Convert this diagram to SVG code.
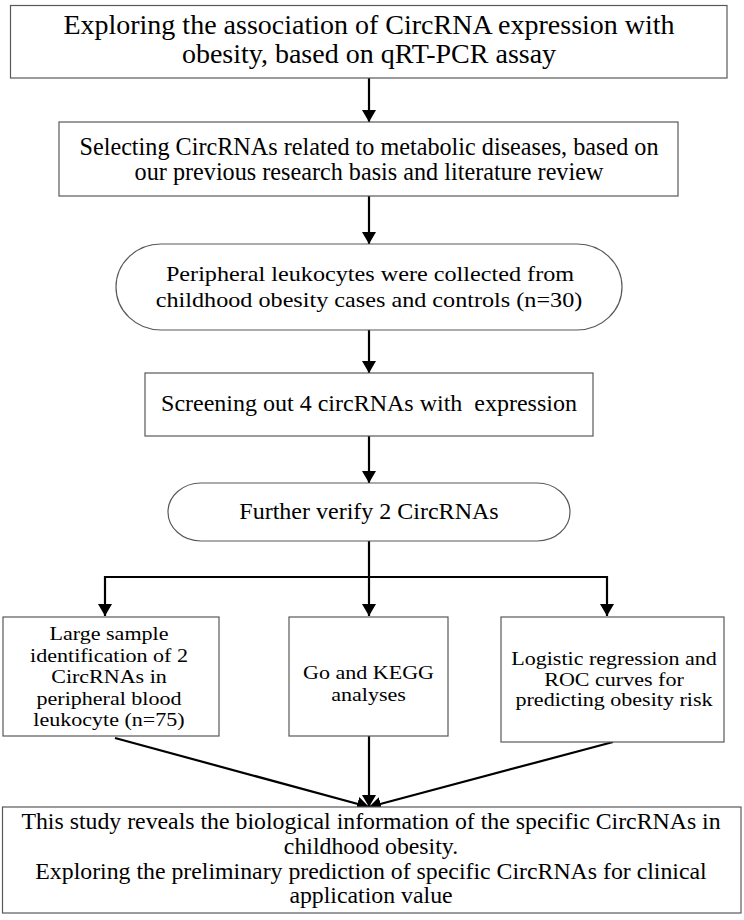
<svg xmlns="http://www.w3.org/2000/svg" width="744" height="920" viewBox="0 0 744 920">
<defs>
<style>
.box{fill:#fff;stroke:#595959;stroke-width:1.2}
.t{font-family:"Liberation Serif","Times New Roman",serif;fill:#000;text-anchor:middle}
.s{font-size:19px}
.m{font-size:21.5px}
.c{fill:none;stroke:#000;stroke-width:2.2}
</style>
<marker id="ah" markerUnits="userSpaceOnUse" markerWidth="13" markerHeight="14" refX="12" refY="7" orient="auto" viewBox="0 0 13 14">
<path d="M0,0 L12,7 L0,14 z" fill="#000"/>
</marker>
</defs>
<rect width="744" height="920" fill="#fff"/>
<g id="connectors">
<path class="c" d="M369,78 V122" marker-end="url(#ah)"/>
<path class="c" d="M369,196 V244" marker-end="url(#ah)"/>
<path class="c" d="M369,330 V373" marker-end="url(#ah)"/>
<path class="c" d="M369,436 V483" marker-end="url(#ah)"/>
<path class="c" d="M369,541 V577 M105,577 H607"/>
<path class="c" d="M105,576 V616" marker-end="url(#ah)"/>
<path class="c" d="M369,577 V616" marker-end="url(#ah)"/>
<path class="c" d="M607,576 V616" marker-end="url(#ah)"/>
<path class="c" d="M115,738 L369,807" marker-end="url(#ah)"/>
<path class="c" d="M369,736 V807" marker-end="url(#ah)"/>
<path class="c" d="M613,742 L369,807" marker-end="url(#ah)"/>
</g>
<g id="n1">
<rect class="box" x="10.5" y="5.5" width="716.5" height="72.5"/>
<text class="t" x="369" y="34" font-size="28">Exploring the association of CircRNA expression with</text>
<text class="t" x="369" y="63" font-size="28">obesity, based on qRT-PCR assay</text>
</g>
<g id="n2">
<rect class="box" x="59" y="122" width="619" height="74"/>
<text class="t" x="369" y="155" font-size="24.2">Selecting CircRNAs related to metabolic diseases, based on</text>
<text class="t" x="369" y="180" font-size="24.2">our previous research basis and literature review</text>
</g>
<g id="n3">
<rect class="box" x="116" y="244" width="506" height="86" rx="45" ry="43"/>
<text class="t m" transform="translate(370,281) scale(1.125,1)">Peripheral leukocytes were collected from</text>
<text class="t m" transform="translate(369,307) scale(1.125,1)">childhood obesity cases and controls (n=30)</text>
</g>
<g id="n4">
<rect class="box" x="145" y="373" width="448" height="63"/>
<text class="t" x="369" y="411" font-size="24" xml:space="preserve">Screening out 4 circRNAs with  expression</text>
</g>
<g id="n5">
<rect class="box" x="168" y="483" width="402" height="58" rx="33" ry="29"/>
<text class="t" x="369" y="519" font-size="24">Further verify 2 CircRNAs</text>
</g>
<g id="n6">
<rect class="box" x="3" y="617" width="216" height="119"/>
<text class="t s" transform="translate(109,640) scale(1.16,1)">Large sample</text>
<text class="t s" transform="translate(109,661.5) scale(1.16,1)">identification of 2</text>
<text class="t s" transform="translate(109,683) scale(1.16,1)">CircRNAs in</text>
<text class="t s" transform="translate(109,704.5) scale(1.16,1)">peripheral blood</text>
<text class="t s" transform="translate(109,726) scale(1.16,1)">leukocyte (n=75)</text>
</g>
<g id="n7">
<rect class="box" x="289" y="617" width="159" height="119"/>
<text class="t s" transform="translate(368.5,679) scale(1.16,1)">Go and KEGG</text>
<text class="t s" transform="translate(368.5,701) scale(1.16,1)">analyses</text>
</g>
<g id="n8">
<rect class="box" x="501" y="617" width="223" height="125"/>
<text class="t s" transform="translate(614,665) scale(1.16,1)">Logistic regression and</text>
<text class="t s" transform="translate(614,685.5) scale(1.16,1)">ROC curves for</text>
<text class="t s" transform="translate(614,706) scale(1.16,1)">predicting obesity risk</text>
</g>
<g id="n9">
<rect class="box" x="2.5" y="807" width="738.5" height="106"/>
<text class="t" x="371" y="829" font-size="23.8">This study reveals the biological information of the specific CircRNAs in</text>
<text class="t" x="371" y="854" font-size="23.8">childhood obesity.</text>
<text class="t" x="371" y="879" font-size="23.8">Exploring the preliminary prediction of specific CircRNAs for clinical</text>
<text class="t" x="371" y="903" font-size="23.8">application value</text>
</g>
</svg>
